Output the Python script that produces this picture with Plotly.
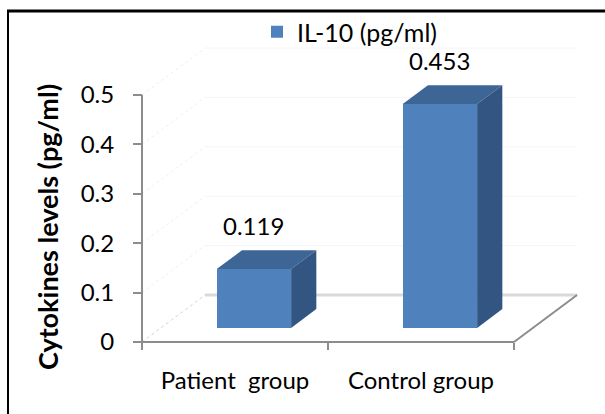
import plotly.graph_objects as go

# Data
categories = ["Patient\u00a0 group", "Control group"]
il10_values = [0.119, 0.453]
value_labels = ["0.119", "0.453"]
y_ticks = [0, 0.1, 0.2, 0.3, 0.4, 0.5]
y_tick_text = ["0", "0.1", "0.2", "0.3", "0.4", "0.5"]
series_name = "IL-10 (pg/ml)"

# 3D-look geometry (in axis units)
DX, DY = 0.339, 0.0951      # full floor depth offset
BAR_W = 0.4                 # bar width in category units
F_FRONT, F_BACK = 0.3, 0.7  # bar front/back position within the depth

FRONT = "#4f81bd"
TOP = "#3d6697"
SIDE = "#325681"
AXIS = "#8c8c8c"
FONT = "Lato"

# Canvas / plot area in pixels
W, H = 605, 414
L, R, T, B = 130, 600, 40, 350
X0_PX, Y0_PX = 142, 342
PX_X, PX_Y = 186, 494
x_range = [(L - X0_PX) / PX_X, (R - X0_PX) / PX_X]
y_range = [-(B - Y0_PX) / PX_Y, (Y0_PX - T) / PX_Y]


def px(x):
    return (x - L) / (R - L)


def py(y):
    return (B - y) / (B - T)


centers = [i + 0.5 for i in range(len(categories))]
n = len(categories)

fig = go.Figure()

# Back wall gridlines, floor back edge and side-wall guides (behind the bars)
for v in y_ticks:
    if v == 0:
        fig.add_shape(type="line", xref="x", yref="y", layer="below",
                      x0=DX, x1=n + DX, y0=DY, y1=DY,
                      line=dict(color="#d9d9d9", width=3))
        fig.add_shape(type="line", xref="x", yref="y", layer="below",
                      x0=0, x1=DX, y0=0, y1=DY,
                      line=dict(color="#d4d4d4", width=1, dash="dot"))
    else:
        fig.add_shape(type="line", xref="x", yref="y", layer="below",
                      x0=DX, x1=n + DX, y0=v + DY, y1=v + DY,
                      line=dict(color="#f4f4f4", width=1))
        fig.add_shape(type="line", xref="x", yref="y", layer="below",
                      x0=0, x1=DX, y0=v, y1=v + DY,
                      line=dict(color="#efefef", width=1, dash="dot"))

# Right floor edge
fig.add_trace(go.Scatter(
    x=[n, n + DX], y=[0, DY], mode="lines",
    line=dict(color=AXIS, width=2), showlegend=False, hoverinfo="skip"))

# Front axis lines
fig.add_trace(go.Scatter(
    x=[0, 0], y=[0, max(y_ticks)], mode="lines",
    line=dict(color=AXIS, width=2), showlegend=False, hoverinfo="skip"))
fig.add_trace(go.Scatter(
    x=[0, n], y=[0, 0], mode="lines",
    line=dict(color=AXIS, width=2), showlegend=False, hoverinfo="skip"))

# Bar front faces
fig.add_trace(go.Bar(
    x=[c + F_FRONT * DX for c in centers],
    y=il10_values,
    base=[F_FRONT * DY] * n,
    width=BAR_W,
    marker=dict(color=FRONT, line=dict(width=0)),
    name=series_name, showlegend=True, hoverinfo="skip"))

# Bar top and side faces
for c, v in zip(centers, il10_values):
    xl, xr = c - BAR_W / 2, c + BAR_W / 2
    fig.add_trace(go.Scatter(
        x=[xl + F_FRONT * DX, xr + F_FRONT * DX, xr + F_BACK * DX, xl + F_BACK * DX, xl + F_FRONT * DX],
        y=[v + F_FRONT * DY, v + F_FRONT * DY, v + F_BACK * DY, v + F_BACK * DY, v + F_FRONT * DY],
        mode="lines", fill="toself", fillcolor=TOP, line=dict(width=0, color=TOP),
        showlegend=False, hoverinfo="skip"))
    fig.add_trace(go.Scatter(
        x=[xr + F_FRONT * DX, xr + F_BACK * DX, xr + F_BACK * DX, xr + F_FRONT * DX, xr + F_FRONT * DX],
        y=[F_FRONT * DY, F_BACK * DY, v + F_BACK * DY, v + F_FRONT * DY, F_FRONT * DY],
        mode="lines", fill="toself", fillcolor=SIDE, line=dict(width=0, color=SIDE),
        showlegend=False, hoverinfo="skip"))

# Value labels above bars
for c, v, lab in zip(centers, il10_values, value_labels):
    fig.add_annotation(
        x=c + F_FRONT * DX, y=v + F_BACK * DY, text=lab, showarrow=False,
        yshift=25, xanchor="center", yanchor="middle",
        font=dict(family=FONT, size=24, color="black"))

# Y axis title
fig.add_annotation(
    xref="paper", yref="paper", x=px(47), y=py(227), text="<b>Cytokines levels (pg/ml)</b>",
    textangle=-90, showarrow=False, xanchor="center", yanchor="middle",
    font=dict(family=FONT, size=27, color="black"))

# Chart frame
fig.add_shape(type="line", xref="paper", yref="paper",
              x0=px(7), x1=px(606), y0=py(11), y1=py(11),
              line=dict(color="black", width=3))
fig.add_shape(type="line", xref="paper", yref="paper",
              x0=px(8), x1=px(8), y0=py(10), y1=py(416),
              line=dict(color="black", width=2))

fig.update_layout(
    width=W, height=H,
    margin=dict(l=L, r=W - R, t=T, b=H - B, pad=0),
    paper_bgcolor="white", plot_bgcolor="white",
    bargap=0, barmode="overlay",
    font=dict(family=FONT, size=24, color="black"),
    legend=dict(x=px(257), y=py(32), xanchor="left", yanchor="middle",
                orientation="h", font=dict(family=FONT, size=25, color="black"),
                bgcolor="rgba(0,0,0,0)", itemwidth=30),
    xaxis=dict(range=x_range, anchor="free", position=py(Y0_PX),
               showgrid=False, zeroline=False, showline=False,
               tickmode="array", tickvals=centers, ticktext=categories,
               ticks="", ticklabelstandoff=22,
               tickfont=dict(family=FONT, size=24, color="black"),
               minor=dict(tickmode="array", tickvals=[0, 1, 2], ticks="outside",
                          ticklen=7, tickwidth=2, tickcolor=AXIS, showgrid=False)),
    yaxis=dict(range=y_range, anchor="free", position=px(X0_PX),
               showgrid=False, zeroline=False, showline=False,
               tickmode="array", tickvals=y_ticks, ticktext=y_tick_text,
               ticks="outside", ticklen=9, tickwidth=2, tickcolor=AXIS,
               ticklabelstandoff=14,
               tickfont=dict(family=FONT, size=24, color="black")),
)

fig.write_html("out.html")
